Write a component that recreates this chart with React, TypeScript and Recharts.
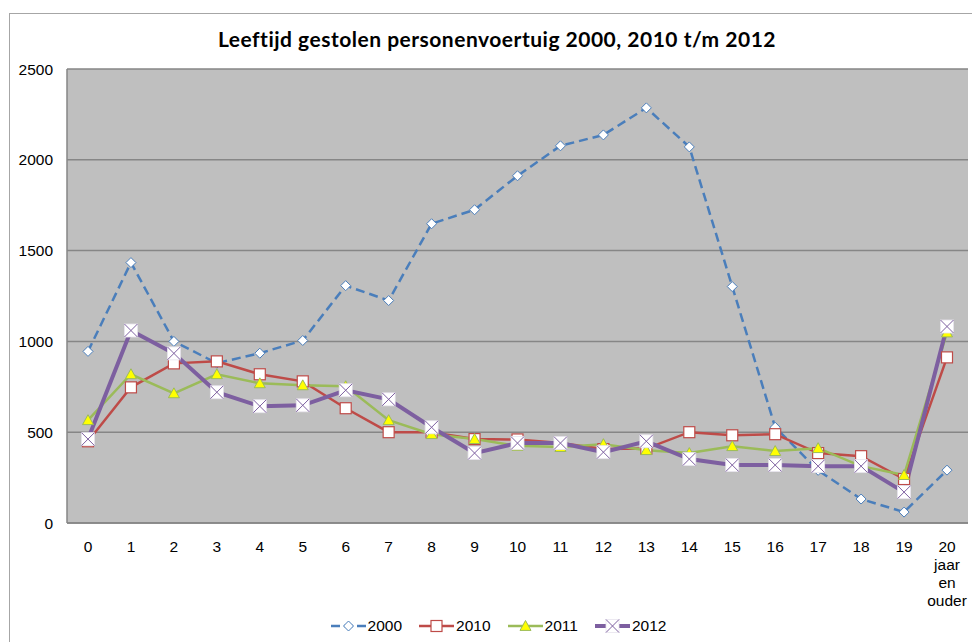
import { LineChart, Line, XAxis, YAxis, CartesianGrid, Legend } from "recharts";

const categories = ["0", "1", "2", "3", "4", "5", "6", "7", "8", "9", "10", "11", "12", "13", "14", "15", "16", "17", "18", "19", "20"];
const tickLines: Record<string, string[]> = { "20": ["20", "jaar", "en", "ouder"] };

const v2000 = [945, 1434, 1000, 880, 935, 1005, 1307, 1225, 1648, 1725, 1912, 2077, 2137, 2286, 2071, 1302, 527, 290, 132, 60, 291];
const v2010 = [450, 747, 879, 890, 819, 780, 632, 500, 500, 462, 460, 440, 407, 410, 500, 483, 489, 385, 368, 242, 912];
const v2011 = [566, 819, 714, 819, 769, 758, 753, 566, 489, 462, 425, 418, 434, 401, 385, 423, 396, 412, 313, 264, 1049];
const v2012 = [462, 1060, 934, 720, 643, 648, 731, 681, 527, 385, 440, 440, 390, 450, 352, 319, 319, 313, 313, 170, 1082];

const yTicks = [0, 500, 1000, 1500, 2000, 2500];

const data = categories.map((c, i) => ({
  name: c,
  s2000: v2000[i],
  s2010: v2010[i],
  s2011: v2011[i],
  s2012: v2012[i],
}));

const BLUE = "#4A7EBB";
const RED = "#BE4B48";
const GREEN = "#9BBB59";
const PURPLE = "#7D5FA0";
const FONT = "'Liberation Sans', Arial, sans-serif";

function Diamond({ cx, cy }: any) {
  const r = 5;
  return <path d={`M${cx},${cy - r}L${cx + r},${cy}L${cx},${cy + r}L${cx - r},${cy}Z`} fill="#fff" stroke={BLUE} strokeWidth={1} />;
}

function Square({ cx, cy }: any) {
  const r = 5.5;
  return <rect x={cx - r} y={cy - r} width={r * 2} height={r * 2} fill="#fff" stroke={RED} strokeWidth={1.2} />;
}

function Triangle({ cx, cy }: any) {
  const r = 5.5;
  return <path d={`M${cx},${cy - r}L${cx + r},${cy + r * 0.8}L${cx - r},${cy + r * 0.8}Z`} fill="#FFFF00" stroke={GREEN} strokeWidth={1} />;
}

function XBox({ cx, cy }: any) {
  const r = 6.5;
  return (
    <g>
      <rect x={cx - r} y={cy - r} width={r * 2} height={r * 2} fill="#fff" stroke="#e8e4ee" strokeWidth={0.8} />
      <path d={`M${cx - r},${cy - r}L${cx + r},${cy + r}M${cx + r},${cy - r}L${cx - r},${cy + r}`} stroke={PURPLE} strokeWidth={1} />
    </g>
  );
}

function XTick({ x, y, payload }: any) {
  const lines = tickLines[payload.value] || [payload.value];
  return (
    <text x={x} y={y} textAnchor="middle" fontFamily={FONT} fontSize={15.5} fill="#000">
      {lines.map((l, i) => (
        <tspan key={i} x={x} dy={i === 0 ? 21 : 18}>
          {l}
        </tspan>
      ))}
    </text>
  );
}

const legendItems = [
  { label: "2000", color: BLUE, dash: true, Mark: Diamond, w: 2.5 },
  { label: "2010", color: RED, dash: false, Mark: Square, w: 2.5 },
  { label: "2011", color: GREEN, dash: false, Mark: Triangle, w: 2.5 },
  { label: "2012", color: PURPLE, dash: false, Mark: XBox, w: 4 },
];

function LegendContent() {
  return (
    <div style={{ height: 24, display: "flex", justifyContent: "center", alignItems: "center", fontFamily: FONT, fontSize: 15.5, paddingLeft: 46 }}>
      {legendItems.map((it) => (
        <div key={it.label} style={{ display: "flex", alignItems: "center", marginRight: 17 }}>
          <svg width={35} height={20}>
            <line x1={0} y1={10} x2={35} y2={10} stroke={it.color} strokeWidth={it.w} strokeDasharray={it.dash ? "9 4" : undefined} />
            <it.Mark cx={17.5} cy={10} />
          </svg>
          <span style={{ marginLeft: 2 }}>{it.label}</span>
        </div>
      ))}
    </div>
  );
}

export default function App() {
  return (
    <div style={{ position: "absolute", left: 0, top: 0, width: 972, height: 642, overflow: "hidden", background: "#fff" }}>
      <div style={{ position: "absolute", left: 9, top: 13, width: 990, height: 700, border: "1.5px solid #a6a6a6" }} />
      <div
        style={{
          position: "absolute",
          left: 0,
          top: 26,
          width: 994,
          textAlign: "center",
          fontFamily: "Lato, 'Open Sans', sans-serif",
          fontWeight: 700,
          fontSize: 21,
          letterSpacing: 0.5,
          color: "#000",
        }}
      >
        Leeftijd gestolen personenvoertuig 2000, 2010 t/m 2012
      </div>
      <div style={{ position: "absolute", left: 0, top: 0 }}>
        <LineChart width={972} height={642} data={data} margin={{ top: 69, right: 4, left: 0, bottom: 4 }}>
          <CartesianGrid vertical={false} fill="#BFBFBF" stroke="#868686" strokeWidth={1.5} />
          <XAxis
            dataKey="name"
            interval={0}
            padding={{ left: 21, right: 21 }}
            height={91}
            tickLine={false}
            axisLine={{ stroke: "#868686", strokeWidth: 1.5 }}
            tick={<XTick />}
          />
          <YAxis
            width={67}
            domain={[0, 2500]}
            ticks={yTicks}
            tickLine={false}
            axisLine={{ stroke: "#868686", strokeWidth: 1.5 }}
            tick={{ fontFamily: FONT, fontSize: 15.5, fill: "#000", dx: -6 }}
          />
          <Legend verticalAlign="bottom" content={<LegendContent />} />
          <Line
            dataKey="s2000"
            name="2000"
            stroke={BLUE}
            strokeWidth={2.5}
            strokeDasharray="9 5"
            dot={(p: any) => <Diamond key={p.index} {...p} />}
            isAnimationActive={false}
          />
          <Line
            dataKey="s2010"
            name="2010"
            stroke={RED}
            strokeWidth={2.5}
            dot={(p: any) => <Square key={p.index} {...p} />}
            isAnimationActive={false}
          />
          <Line
            dataKey="s2011"
            name="2011"
            stroke={GREEN}
            strokeWidth={2.5}
            dot={(p: any) => <Triangle key={p.index} {...p} />}
            isAnimationActive={false}
          />
          <Line
            dataKey="s2012"
            name="2012"
            stroke={PURPLE}
            strokeWidth={4}
            dot={(p: any) => <XBox key={p.index} {...p} />}
            isAnimationActive={false}
          />
        </LineChart>
      </div>
    </div>
  );
}
